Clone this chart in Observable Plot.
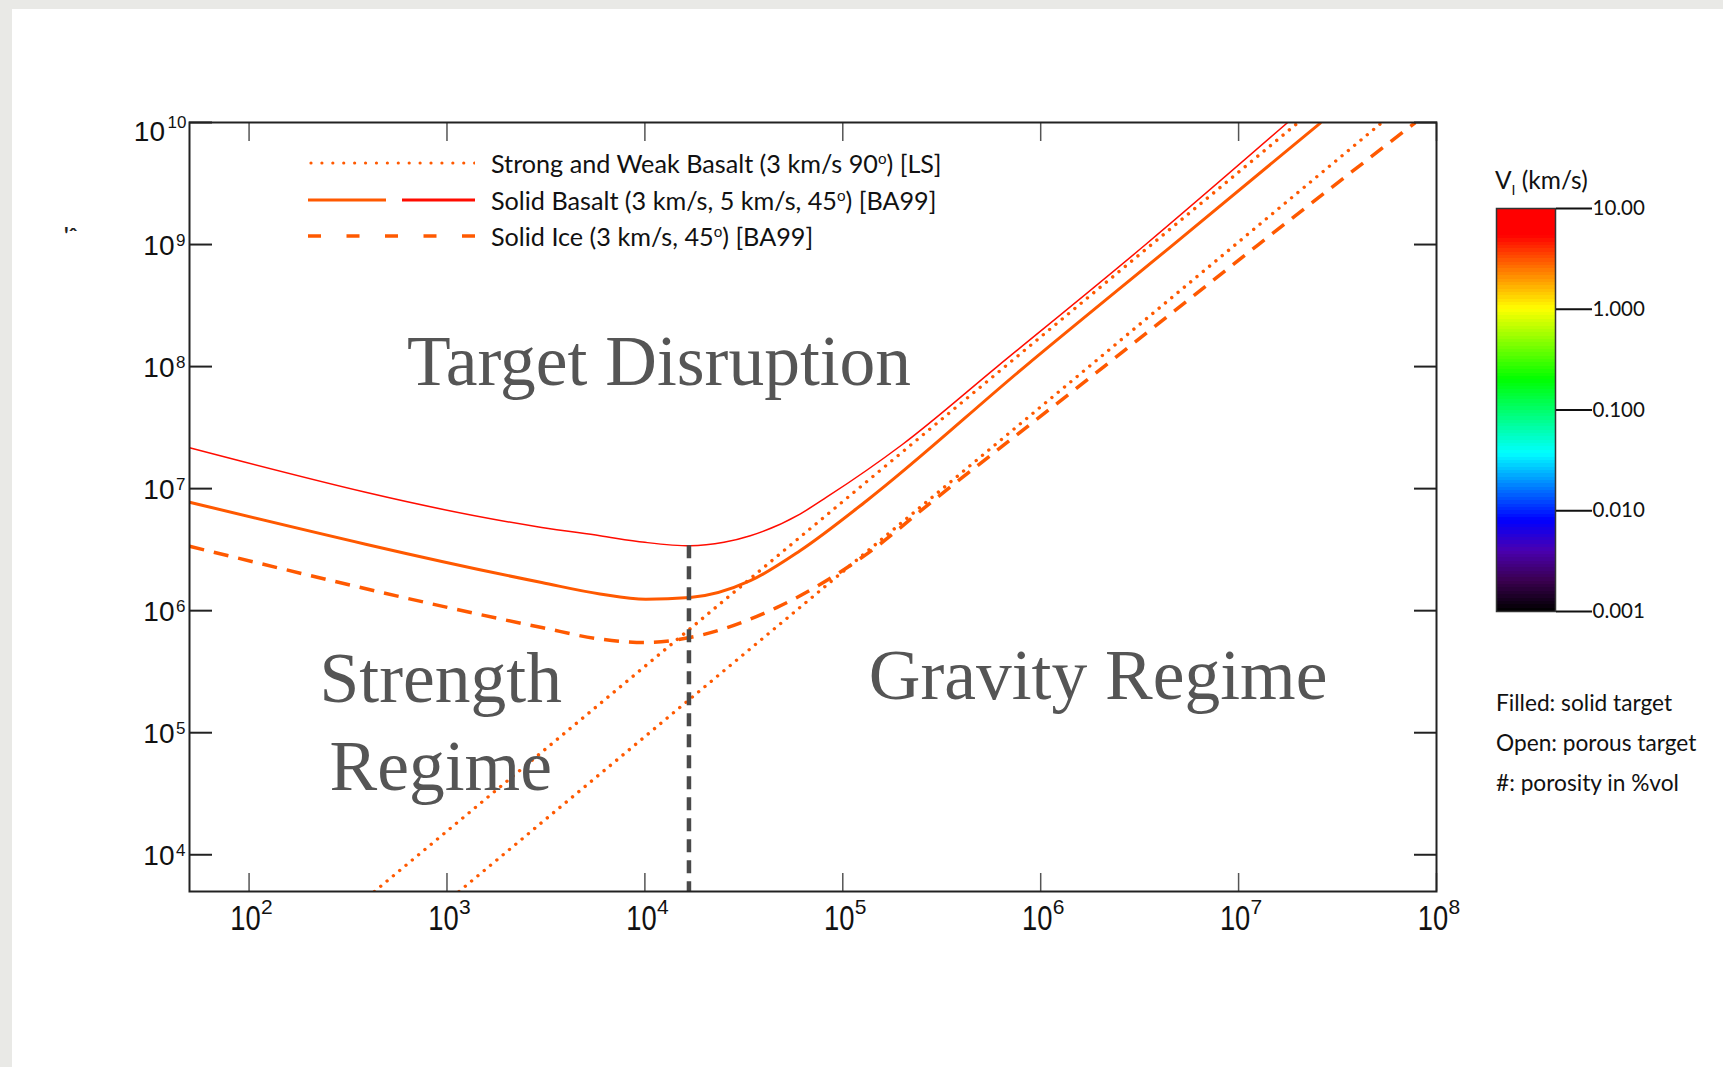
<!DOCTYPE html>
<html>
<head>
<meta charset="utf-8">
<script src="https://cdn.jsdelivr.net/npm/d3@7"></script>
<script src="https://cdn.jsdelivr.net/npm/@observablehq/plot@0.6"></script>
<style>
  html, body { margin: 0; padding: 0; }
  body { width: 1723px; height: 1067px; background: #e9e9e6; position: relative; overflow: hidden;
         font-family: Lato, "Noto Sans", sans-serif; color: #111; }
  #panel { position: absolute; left: 12px; top: 9px; right: 0; bottom: 0; background: #fff; }
  #chart { position: absolute; left: 0; top: 0; }
  #legend { position: absolute; left: 308px; top: 145px; }
  .lrow { display: flex; align-items: center; height: 36.5px; }
  .lrow svg { display: block; }
  .lrow span { margin-left: 16px; font-size: 25.2px; white-space: nowrap; }
  #cbtitle { position: absolute; left: 1495px; top: 165px; font-size: 24.5px; white-space: nowrap; }
  #cbtitle sub { font-size: 14px; vertical-align: -6px; }
  #cbar { position: absolute; left: 1496px; top: 188px; }
  #notes { position: absolute; left: 1496px; top: 683px; font-size: 22.7px; line-height: 40px; white-space: nowrap; }
  #clipped { position: absolute; left: 64px; top: 222px; font-size: 22px; font-weight: bold; color: #222; }
  sup { font-size: 60%; vertical-align: 9px; }
</style>
</head>
<body>
<div id="panel"></div>
<div id="clipped">'ˆ</div>
<div id="chart"></div>
<div id="legend"></div>
<div id="cbtitle">V<sub>I</sub> (km/s)</div>
<div id="cbar"></div>
<div id="notes"></div>
<script>
// ---------- data ----------
const xTickExponents = [2, 3, 4, 5, 6, 7, 8];
const yTickExponents = [4, 5, 6, 7, 8, 9, 10];
const xDomain = [50, 1e8];
const yDomain = [5000, 1e10];

// Solid Basalt, 5 km/s, 45 deg [BA99]
const basalt5X = [50, 3010, 5930, 10000, 16900, 25100, 34100, 60800, 82800, 2.0e5, 6.03e5, 3.39e6, 1.77e7];
const basalt5Y = [2.16e7, 4.81e6, 4.11e6, 3.63e6, 3.40e6, 3.63e6, 4.11e6, 6.19e6, 8.5e6, 2.3e7, 1e8, 1e9, 1e10];
// Solid Basalt, 3 km/s, 45 deg [BA99]
const basalt3X = [50, 3010, 5930, 10100, 16900, 34100, 60800, 1.32e5, 8.32e5, 4.68e6, 2.61e7];
const basalt3Y = [7.74e6, 1.70e6, 1.37e6, 1.24e6, 1.28e6, 1.76e6, 3.10e6, 7.96e6, 1e8, 1e9, 1e10];
// Solid Ice, 3 km/s, 45 deg [BA99]
const ice3X = [50, 3010, 5930, 10100, 16900, 46300, 1.32e5, 2.86e5, 2.09e6, 1.26e7, 7.82e7];
const ice3Y = [3.37e6, 7.28e5, 5.85e5, 5.48e5, 6.03e5, 1.06e6, 2.91e6, 7.96e6, 1e8, 1e9, 1e10];
// Strong and Weak Basalt, 3 km/s, 90 deg [LS]
const strongBasaltX = [430, 2.0e7];
const strongBasaltY = [5000, 1e10];
const weakBasaltX = [1150, 5.3e7];
const weakBasaltY = [5000, 1e10];
// strength / gravity transition
const transitionX = [1.67e4];
const transitionTopY = [3.4e6];

// colour bar (impact velocity, km/s)
const cbStops = [0.001, 0.002, 0.004, 0.008, 0.037, 0.2, 1, 5.4, 10];
const cbColors = ["#000000", "#3a0050", "#4a00b0", "#0000ff", "#00ffff", "#00ff00", "#ffff00", "#ff0000", "#ff0000"];
const cbTicks = [10, 1, 0.1, 0.01, 0.001];
const cbTickLabels = ["10.00", "1.000", "0.100", "0.010", "0.001"];

const legendLabels = [
  "Strong and Weak Basalt (3 km/s 90<sup>o</sup>) [LS]",
  "Solid Basalt (3 km/s, 5 km/s, 45<sup>o</sup>) [BA99]",
  "Solid Ice (3 km/s, 45<sup>o</sup>) [BA99]"
];
const notes = ["Filled: solid target", "Open: porous target", "#: porosity in %vol"];

const regionLabels = [
  {text: "Target Disruption", x: 11800, y: 1.09e8},
  {text: "Strength", x: 930, y: 2.73e5},
  {text: "Regime", x: 930, y: 5.2e4},
  {text: "Gravity Regime", x: 1.95e6, y: 2.92e5}
];

// ---------- build ----------
const vColor = d3.scaleLog().domain(cbStops).range(cbColors).interpolate(d3.interpolateRgb);
const zip = (xs, ys) => xs.map((x, i) => ({x, y: ys[i]}));

const series = [
  {pts: zip(strongBasaltX, strongBasaltY), v: 3, w: 3.4, dash: "0.01,8.2", cap: "round", curve: "linear"},
  {pts: zip(weakBasaltX, weakBasaltY), v: 3, w: 3.4, dash: "0.01,8.2", cap: "round", curve: "linear"},
  {pts: zip(ice3X, ice3Y), v: 3, w: 3.5, dash: "15,10", cap: "butt", curve: "monotone-x"},
  {pts: zip(basalt3X, basalt3Y), v: 3, w: 3, dash: null, cap: "butt", curve: "monotone-x"},
  {pts: zip(basalt5X, basalt5Y), v: 5, w: 1.5, dash: null, cap: "butt", curve: "monotone-x"}
];

const xTicks = xTickExponents.map(e => 10 ** e);
const yTicks = yTickExponents.map(e => 10 ** e);
const yTicksSingle = yTicks.filter(d => d < 1e10);
const yTicksTop = yTicks.filter(d => d >= 1e10);
const sans = "'Liberation Sans', Arial, sans-serif";

const marks = [];
for (const s of series) {
  marks.push(Plot.line(s.pts, {x: "x", y: "y", stroke: vColor(s.v), strokeWidth: s.w,
    strokeDasharray: s.dash, strokeLinecap: s.cap, curve: s.curve, clip: true}));
}
marks.push(
  Plot.ruleX(transitionX.map((x, i) => ({x, top: transitionTopY[i]})),
    {x: "x", y1: "top", y2: yDomain[0], stroke: "#4a4a4a", strokeWidth: 4.5, strokeDasharray: "13,8"}),
  Plot.text(regionLabels, {x: "x", y: "y", text: "text", fontSize: 71.5,
    fontFamily: "'Liberation Serif', 'DejaVu Serif', serif", fill: "#555"}),
  // inward ticks
  Plot.axisX(xTicks, {anchor: "bottom", tickSize: -18, tickFormat: () => "", stroke: "#555", strokeWidth: 1.5, label: null}),
  Plot.axisX(xTicks, {anchor: "top", tickSize: -18, tickFormat: () => "", stroke: "#555", strokeWidth: 1.5, label: null}),
  Plot.axisY(yTicks, {anchor: "left", tickSize: -23, tickFormat: () => "", stroke: "#222", strokeWidth: 2, label: null}),
  Plot.axisY(yTicks, {anchor: "right", tickSize: -23, tickFormat: () => "", stroke: "#222", strokeWidth: 2, label: null}),
  Plot.frame({stroke: "#222", strokeWidth: 2}),
  // x tick labels: 10 + exponent
  Plot.text(xTicks, {x: d => d, frameAnchor: "bottom", text: () => "10", dx: -3.5, dy: 38,
    fontSize: 36, fontFamily: sans, fill: "#111"}),
  Plot.text(xTicks, {x: d => d, frameAnchor: "bottom", text: d => String(Math.round(Math.log10(d))),
    textAnchor: "start", dx: 12, dy: 22, fontSize: 21, fontFamily: sans, fill: "#111"}),
  // y tick labels
  Plot.text(yTicksSingle, {y: d => d, frameAnchor: "left", text: () => "10", textAnchor: "end", dx: -15, dy: 1.2,
    fontSize: 28, fontFamily: sans, fill: "#111"}),
  Plot.text(yTicksSingle, {y: d => d, frameAnchor: "left", text: d => String(Math.round(Math.log10(d))),
    textAnchor: "end", dx: -4, dy: -4.4, fontSize: 17, fontFamily: sans, fill: "#111"}),
  Plot.text(yTicksTop, {y: d => d, frameAnchor: "left", text: () => "10", textAnchor: "end", dx: -24.5, dy: 10,
    fontSize: 28, fontFamily: sans, fill: "#111"}),
  Plot.text(yTicksTop, {y: d => d, frameAnchor: "left", text: d => String(Math.round(Math.log10(d))),
    textAnchor: "end", dx: -3, dy: -0.4, fontSize: 17, fontFamily: sans, fill: "#111"})
);

const chart = Plot.plot({
  width: 1460, height: 971,
  marginLeft: 189, marginRight: 24, marginTop: 122, marginBottom: 80,
  x: {type: "log", domain: xDomain},
  y: {type: "log", domain: yDomain},
  style: {background: "transparent", overflow: "visible"},
  marks
});
document.getElementById("chart").append(chart);

// condensed look for the x tick labels: squeeze the texts below the frame horizontally
function squeeze(t, s) {
  const tr = t.getAttribute("transform") || "";
  const ax = +(t.getAttribute("x") || 0), ay = +(t.getAttribute("y") || 0);
  t.setAttribute("transform", `${tr} translate(${ax},${ay}) scale(${s},1) translate(${-ax},${-ay})`);
}
chart.querySelectorAll('g[aria-label="text"]').forEach(g => {
  const texts = Array.from(g.querySelectorAll("text"));
  if (texts.length && texts.every(t => t.getBoundingClientRect().top > 895)) texts.forEach(t => squeeze(t, 0.76));
});

// ---------- legend ----------
const orange = vColor(3), red = vColor(5);
const legendSwatches = [
  `<line x1="3" y1="6" x2="167" y2="6" stroke="${orange}" stroke-width="3.2" stroke-linecap="round" stroke-dasharray="0.01,10.9"/>`,
  `<line x1="0" y1="6" x2="78" y2="6" stroke="${orange}" stroke-width="3"/><line x1="94" y1="6" x2="167" y2="6" stroke="${red}" stroke-width="3"/>`,
  `<line x1="0" y1="6" x2="167" y2="6" stroke="${orange}" stroke-width="3.5" stroke-dasharray="13,25.5"/>`
];
document.getElementById("legend").innerHTML = legendLabels.map((t, i) =>
  `<div class="lrow"><svg width="167" height="12">${legendSwatches[i]}</svg><span>${t}</span></div>`).join("");

// ---------- colour bar ----------
const nSlices = 120;
const slices = d3.range(nSlices).map(i => {
  const lo = 10 ** (-3 + 4 * i / nSlices), hi = 10 ** (-3 + 4 * (i + 1) / nSlices);
  return {lo, hi, c: vColor(Math.sqrt(lo * hi))};
});
const cbar = Plot.plot({
  width: 59 + 120, height: 443,
  marginLeft: 0, marginRight: 120, marginTop: 20, marginBottom: 20,
  x: {domain: [0, 1], axis: null},
  y: {type: "log", domain: [0.001, 10]},
  color: {type: "identity"},
  style: {background: "transparent", overflow: "visible", fontFamily: "Lato, sans-serif", fontSize: "20.5px", color: "#111"},
  marks: [
    Plot.rect(slices, {x1: 0, x2: 1, y1: "lo", y2: "hi", fill: "c", shapeRendering: "crispEdges"}),
    Plot.frame({stroke: "#333", strokeWidth: 1.5}),
    Plot.axisY(cbTicks, {anchor: "right", tickSize: 36, tickPadding: 1, label: null,
      tickFormat: d => cbTickLabels[cbTicks.indexOf(d)], stroke: "#111", strokeWidth: 2, fill: "#111"})
  ]
});
document.getElementById("cbar").append(cbar);

document.getElementById("notes").innerHTML = notes.map(t => `<div>${t}</div>`).join("");
</script>
</body>
</html>
